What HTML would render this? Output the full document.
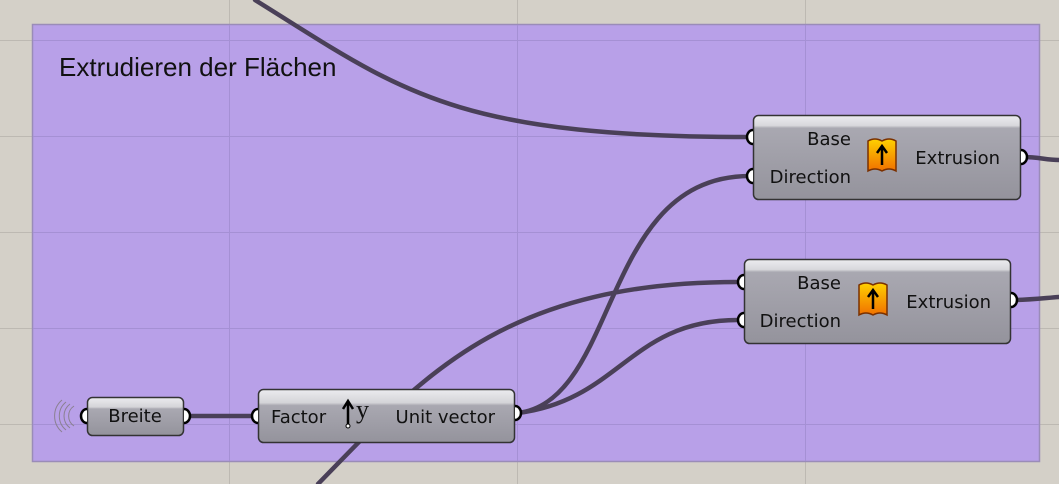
<!DOCTYPE html>
<html><head><style>
html,body{margin:0;padding:0;background:#d4d0c8;}
svg{display:block;}
text{font-family:"DejaVu Sans","Liberation Sans",sans-serif;fill:#111;}
</style></head><body>
<svg width="1059" height="484" viewBox="0 0 1059 484" xmlns="http://www.w3.org/2000/svg">
<defs>
<linearGradient id="g" x1="0" y1="0" x2="0" y2="1">
<stop offset="0" stop-color="#ececef"/>
<stop offset="0.12" stop-color="#d8d8dc"/>
<stop offset="0.15" stop-color="#a9a8b1"/>
<stop offset="1" stop-color="#94939c"/>
</linearGradient>
<linearGradient id="gs" x1="0" y1="0" x2="0" y2="1">
<stop offset="0" stop-color="#ececef"/>
<stop offset="0.25" stop-color="#d4d4d8"/>
<stop offset="0.3" stop-color="#a9a8b1"/>
<stop offset="1" stop-color="#94939c"/>
</linearGradient>
<linearGradient id="ic" x1="0" y1="0" x2="0" y2="1">
<stop offset="0" stop-color="#ffd000"/>
<stop offset="1" stop-color="#f07000"/>
</linearGradient>
</defs>
<rect width="1059" height="484" fill="#d4d0c8"/>
<g stroke="#bdb9b2" stroke-width="1">
<line x1="229.5" y1="0" x2="229.5" y2="484"/><line x1="517.5" y1="0" x2="517.5" y2="484"/><line x1="805.5" y1="0" x2="805.5" y2="484"/>
<line x1="0" y1="40.5" x2="1059" y2="40.5"/><line x1="0" y1="136.5" x2="1059" y2="136.5"/><line x1="0" y1="232.5" x2="1059" y2="232.5"/><line x1="0" y1="328.5" x2="1059" y2="328.5"/><line x1="0" y1="424.5" x2="1059" y2="424.5"/>
</g>
<rect x="32.5" y="24.5" width="1007" height="437" fill="#b8a0e8" stroke="#9a8cb8" stroke-width="1.5"/>
<g stroke="#a590d4" stroke-width="1">
<line x1="229.5" y1="25" x2="229.5" y2="461"/><line x1="517.5" y1="25" x2="517.5" y2="461"/><line x1="805.5" y1="25" x2="805.5" y2="461"/>
<line x1="33" y1="40.5" x2="1039" y2="40.5"/><line x1="33" y1="136.5" x2="1039" y2="136.5"/><line x1="33" y1="232.5" x2="1039" y2="232.5"/><line x1="33" y1="328.5" x2="1039" y2="328.5"/><line x1="33" y1="424.5" x2="1039" y2="424.5"/>
</g>
<text x="59" y="76" font-size="26" style="font-family:'Liberation Sans',sans-serif">Extrudieren der Flächen</text>
<g fill="none" stroke="#4a4058" stroke-width="4.5" stroke-linecap="round">
<path d="M255 0 C 400 90, 450 137, 750 137"/>
<path d="M318 484 C 420 380, 500 282, 738 282"/>
<path d="M518 413 C 620 400, 600 176, 750 176"/>
<path d="M518 413 C 620 400, 630 320, 738 320"/>
<path d="M184 416 L 258 416"/>
<path d="M1022 157 C 1040 157, 1045 160, 1059 160"/>
<path d="M1012 300 C 1030 300, 1045 298, 1059 297"/>
</g>
<rect x="753.5" y="115.5" width="267" height="84" rx="5" fill="url(#g)" stroke="#333" stroke-width="1.5"/>
<text x="851" y="145" font-size="18" text-anchor="end">Base</text>
<text x="851" y="183" font-size="18" text-anchor="end">Direction</text>
<text x="1000" y="164" font-size="18" text-anchor="end">Extrusion</text>
<g transform="translate(866,137)"><path d="M2 4 Q9 0 16 4 Q23 0 30 4 L30 34 Q23 30 16 34 Q9 30 2 34 Z" fill="url(#ic)" stroke="#7a3000" stroke-width="1.5"/><path d="M16 28 L16 11 M11 16 L16 9 L21 16" stroke="#000" stroke-width="2.5" fill="none"/></g>
<rect x="744.5" y="259.5" width="266" height="84" rx="5" fill="url(#g)" stroke="#333" stroke-width="1.5"/>
<text x="841" y="289" font-size="18" text-anchor="end">Base</text>
<text x="841" y="327" font-size="18" text-anchor="end">Direction</text>
<text x="991" y="308" font-size="18" text-anchor="end">Extrusion</text>
<g transform="translate(857,281)"><path d="M2 4 Q9 0 16 4 Q23 0 30 4 L30 34 Q23 30 16 34 Q9 30 2 34 Z" fill="url(#ic)" stroke="#7a3000" stroke-width="1.5"/><path d="M16 28 L16 11 M11 16 L16 9 L21 16" stroke="#000" stroke-width="2.5" fill="none"/></g>
<rect x="258.5" y="389.5" width="256" height="53" rx="5" fill="url(#gs)" stroke="#333" stroke-width="1.5"/>
<text x="271" y="423" font-size="18">Factor</text>
<text x="495" y="423" font-size="18" text-anchor="end">Unit vector</text>
<path d="M348 425 L348 403 M343 409 L348 401 L353 409" stroke="#000" stroke-width="2.5" fill="none"/>
<circle cx="348" cy="426" r="2" fill="#fff" stroke="#000"/>
<text x="356" y="418" font-size="26" style="font-family:'Liberation Serif',serif">y</text>
<g fill="none" stroke="#8a8090" stroke-width="1">
<path d="M66 402 A 18 18 0 0 0 66 430"/><path d="M70 404 A 15 15 0 0 0 70 428"/><path d="M74 406 A 12 12 0 0 0 74 426"/><path d="M62 400 A 21 21 0 0 0 62 432"/>
</g>
<rect x="87.5" y="397.5" width="96" height="38" rx="5" fill="url(#gs)" stroke="#333" stroke-width="1.5"/>
<text x="135" y="422" font-size="18" text-anchor="middle">Breite</text>
<g fill="#fff" stroke="#000" stroke-width="2.5">
<path d="M753 130 A6 7 0 0 0 753 144"/><path d="M753 169 A6 7 0 0 0 753 183"/>
<path d="M1021 150 A6 7 0 0 1 1021 164"/>
<path d="M744 275 A6 7 0 0 0 744 289"/><path d="M744 313 A6 7 0 0 0 744 327"/>
<path d="M1011 293 A6 7 0 0 1 1011 307"/>
<path d="M258 409 A6 7 0 0 0 258 423"/><path d="M515 406 A6 7 0 0 1 515 420"/>
<path d="M87 409 A6 7 0 0 0 87 423"/><path d="M184 409 A6 7 0 0 1 184 423"/>
</g>
</svg>
</body></html>
